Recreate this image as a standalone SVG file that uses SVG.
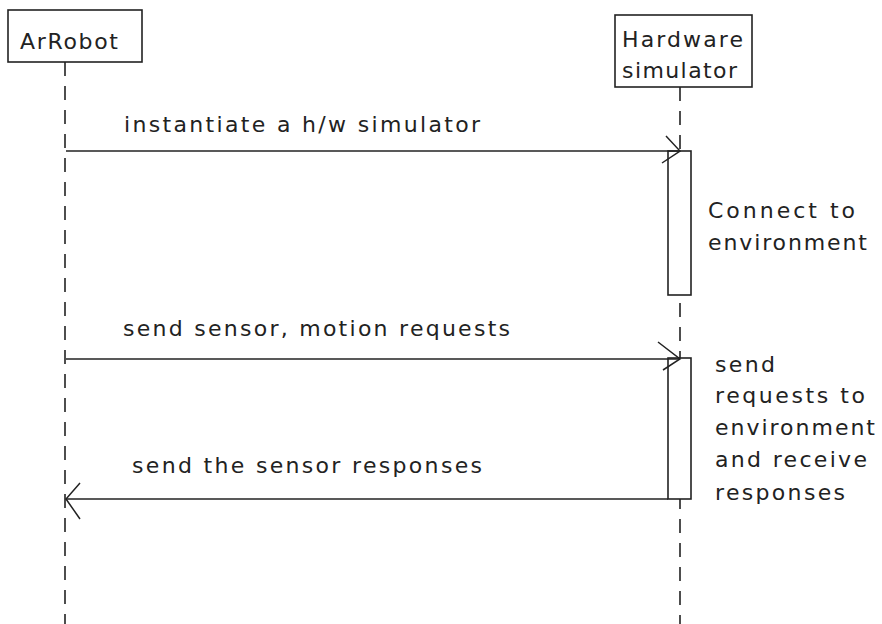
<svg xmlns="http://www.w3.org/2000/svg" width="882" height="624" viewBox="0 0 882 624">
<style>
text{font-family:"DejaVu Sans","Liberation Sans",sans-serif;font-size:22px;fill:#222}
.box{fill:#fff;stroke:#222;stroke-width:1.6}
.life{stroke:#222;stroke-width:1.6;stroke-dasharray:14 10;fill:none}
.msg{stroke:#222;stroke-width:1.5;fill:none}
</style>
<rect width="882" height="624" fill="#fff"/>
<g id="lifelines">
<line class="life" x1="65" y1="62" x2="65" y2="624"/>
<line class="life" x1="680" y1="87" x2="680" y2="624"/>
</g>
<g id="ArRobot">
<rect class="box" x="8" y="10" width="134" height="52"/>
<text x="20" y="49" textLength="98" lengthAdjust="spacing">ArRobot</text>
</g>
<g id="HardwareSimulator">
<rect class="box" x="615" y="15" width="137" height="72"/>
<text x="622" y="47" textLength="121" lengthAdjust="spacing">Hardware</text>
<text x="622" y="78" textLength="115" lengthAdjust="spacing">simulator</text>
</g>
<g id="activation1">
<rect class="box" x="668" y="151" width="23" height="144"/>
<text x="708" y="218" textLength="147" lengthAdjust="spacing">Connect to</text>
<text x="708" y="250" textLength="159" lengthAdjust="spacing">environment</text>
</g>
<g id="activation2">
<rect class="box" x="668" y="358" width="23" height="141"/>
<text x="715" y="372" textLength="60" lengthAdjust="spacing">send</text>
<text x="715" y="403" textLength="150" lengthAdjust="spacing">requests to</text>
<text x="715" y="435" textLength="160" lengthAdjust="spacing">environment</text>
<text x="715" y="467" textLength="152" lengthAdjust="spacing">and receive</text>
<text x="715" y="500" textLength="130" lengthAdjust="spacing">responses</text>
</g>
<g id="connectors">
<line class="msg" x1="66" y1="151" x2="680" y2="151"/>
<path class="msg" d="M666,136 L680,151 L662,163"/>
<text x="124" y="132" textLength="356" lengthAdjust="spacing">instantiate a h/w simulator</text>
<line class="msg" x1="66" y1="359" x2="680" y2="359"/>
<path class="msg" d="M658,342 L680,359 L663,370"/>
<text x="123" y="336" textLength="387" lengthAdjust="spacing">send sensor, motion requests</text>
<line class="msg" x1="668" y1="499" x2="66" y2="499"/>
<path class="msg" d="M80,483 L66,499 L80,519"/>
<text x="132" y="473" textLength="350" lengthAdjust="spacing">send the sensor responses</text>
</g>
</svg>
